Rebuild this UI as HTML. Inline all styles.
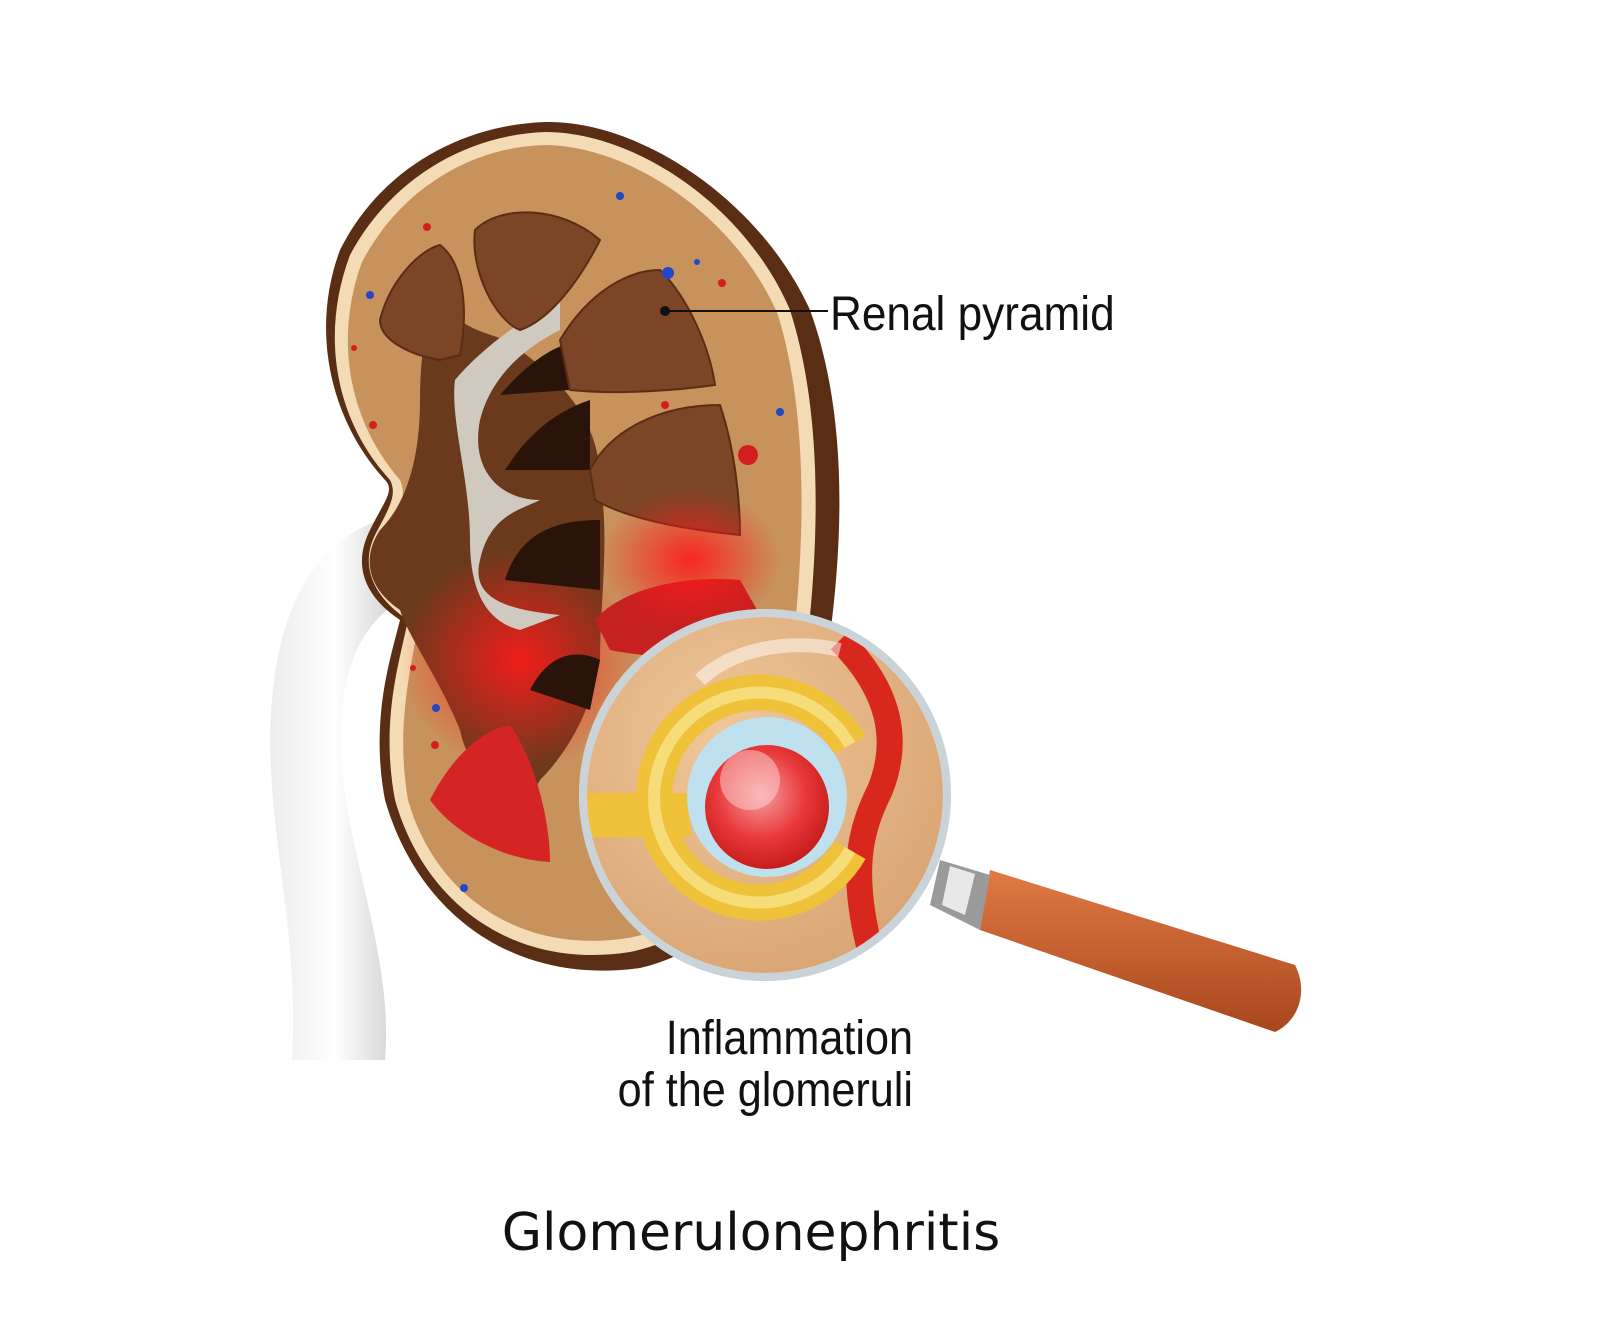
<!DOCTYPE html>
<html><head><meta charset="utf-8"><style>
html,body{margin:0;padding:0;background:#fff;width:1600px;height:1341px;overflow:hidden}
svg{display:block}
</style></head><body>
<svg width="1600" height="1341" viewBox="0 0 1600 1341" xmlns="http://www.w3.org/2000/svg">
<defs>
<linearGradient id="ur" x1="0" x2="1" y1="0" y2="0">
<stop offset="0" stop-color="#ececec"/><stop offset="0.5" stop-color="#ffffff"/><stop offset="1" stop-color="#cfcfcf"/></linearGradient>
<radialGradient id="glow" cx="0.5" cy="0.5" r="0.5">
<stop offset="0" stop-color="#ff1a1a" stop-opacity="0.9"/><stop offset="1" stop-color="#ff1a1a" stop-opacity="0"/></radialGradient>
<radialGradient id="lens" cx="0.4" cy="0.35" r="0.7">
<stop offset="0" stop-color="#f0c89a"/><stop offset="1" stop-color="#d9a473"/></radialGradient>
<radialGradient id="glom" cx="0.45" cy="0.4" r="0.6">
<stop offset="0" stop-color="#f5a0a0"/><stop offset="0.6" stop-color="#e8383a"/><stop offset="1" stop-color="#c81d1d"/></radialGradient>
<linearGradient id="hdl" x1="0" x2="0" y1="0" y2="1">
<stop offset="0" stop-color="#e07a45"/><stop offset="1" stop-color="#a8461c"/></linearGradient>
<clipPath id="lc"><circle cx="765" cy="795" r="178"/></clipPath>
</defs>

<path d="M380,520 C320,540 280,600 272,700 C262,820 300,920 292,1060 L385,1060 C395,940 330,820 342,710 C348,650 370,620 400,600 Z" fill="url(#ur)"/>

<path d="M545,122 C640,120 760,200 810,310 C850,420 845,560 820,700 C800,820 760,940 640,968 C520,985 420,920 385,800 C370,720 390,660 400,620 C370,600 350,570 370,530 C385,500 395,490 385,480 C330,420 310,330 340,250 C380,170 460,125 545,122 Z" fill="#5a2e14"/>
<path d="M545,132 C635,132 745,205 790,310 C825,420 820,560 800,700 C780,820 740,930 630,952 C515,970 425,905 395,800 C380,720 400,660 408,620 C378,600 358,570 375,535 C388,510 398,495 390,480 C335,420 320,335 350,255 C390,180 465,135 545,132 Z" fill="#f3dcb5"/>
<path d="M545,145 C630,146 735,215 778,315 C810,420 806,560 786,700 C766,815 728,920 628,938 C520,955 435,895 408,800 C395,725 412,665 418,625 C392,605 372,575 386,542 C398,515 408,498 400,480 C348,420 334,338 362,262 C400,190 470,147 545,145 Z" fill="#c8925c"/>

<path d="M440,300 C470,340 500,330 520,350 C560,380 600,420 600,480 C610,540 600,600 600,660 C590,720 560,760 540,780 C520,820 470,780 460,730 C440,680 410,640 400,610 C370,590 360,560 380,530 C410,500 420,450 420,400 C420,360 425,320 440,300 Z" fill="#6b3a1c"/>
<ellipse cx="520" cy="660" rx="120" ry="110" fill="url(#glow)"/>
<path d="M455,380 C480,350 520,320 560,300 L560,330 C520,350 490,380 480,420 C470,470 500,500 540,500 C520,510 490,515 480,560 C470,600 510,610 560,615 L520,630 C480,620 470,580 470,540 C470,480 450,420 455,380 Z" fill="#d0c9c0"/>
<path d="M500,395 C530,360 560,340 590,340 L570,390 Z" fill="#2a140a"/>
<path d="M505,470 C530,430 560,410 590,400 L590,470 Z" fill="#2a140a"/>
<path d="M505,580 C520,530 560,520 600,520 L600,590 Z" fill="#2a140a"/>
<path d="M530,690 C550,650 580,650 600,660 L590,710 Z" fill="#2a140a"/>

<g fill="#7b4526" stroke="#5a2e14" stroke-width="2">
<path d="M380,320 C390,280 420,250 440,245 C460,260 470,300 460,355 L440,360 C410,355 380,340 380,320 Z"/>
<path d="M475,230 C500,205 560,205 600,240 C580,280 550,320 520,330 C495,320 470,270 475,230 Z"/>
<path d="M560,340 C590,290 630,270 660,270 C690,300 710,350 715,385 C680,390 620,395 570,390 Z"/>
<path d="M590,470 C610,430 660,405 720,405 C735,450 740,500 740,535 C690,530 630,520 595,500 Z"/>
</g>
<path d="M595,620 C620,590 680,575 740,580 L780,650 C720,660 660,660 610,650 Z" fill="#c62020"/>
<path d="M430,800 C450,760 480,730 510,725 C535,760 550,820 550,862 C510,860 460,840 430,800 Z" fill="#d42424"/>
<ellipse cx="690" cy="560" rx="90" ry="70" fill="url(#glow)"/>

<g fill="#d21e1e"><circle cx="748" cy="455" r="10"/><circle cx="427" cy="227" r="4"/><circle cx="665" cy="405" r="4"/><circle cx="373" cy="425" r="4"/><circle cx="722" cy="283" r="4"/><circle cx="413" cy="668" r="3"/><circle cx="435" cy="745" r="4"/><circle cx="354" cy="348" r="3"/></g>
<g fill="#2546c8"><circle cx="620" cy="196" r="4"/><circle cx="668" cy="273" r="6"/><circle cx="370" cy="295" r="4"/><circle cx="780" cy="412" r="4"/><circle cx="436" cy="708" r="4"/><circle cx="464" cy="888" r="4"/><circle cx="697" cy="262" r="3"/></g>

<path d="M990,870 L1295,965 C1308,990 1300,1020 1275,1032 L980,930 Z" fill="url(#hdl)"/>
<path d="M940,860 L990,875 L980,930 L930,905 Z" fill="#9a9a9a"/>
<path d="M950,866 L975,874 L965,915 L942,905 Z" fill="#e8e8e8"/>

<circle cx="765" cy="795" r="186" fill="#e6ecef"/>
<circle cx="765" cy="795" r="178" fill="url(#lens)"/>
<g clip-path="url(#lc)">
<path d="M840,640 C890,690 900,740 880,790 C860,830 850,870 870,950" stroke="#d8281e" stroke-width="26" fill="none"/>
<path d="M580,815 L690,815" stroke="#f0c23a" stroke-width="44"/>
<path d="M850,745 A105,105 0 1 0 850,850" stroke="#f0c23a" stroke-width="36" fill="none"/>
<path d="M850,745 A105,105 0 1 0 850,850" stroke="#f7dc7a" stroke-width="12" fill="none"/>
<circle cx="767" cy="797" r="80" fill="#bfe0ee"/>
<circle cx="767" cy="807" r="62" fill="url(#glom)"/>
<circle cx="750" cy="780" r="30" fill="#ffd4d4" opacity="0.5"/>
<path d="M700,680 A120,80 0 0 1 840,650" stroke="#fff" stroke-width="14" fill="none" opacity="0.5"/>
</g>
<circle cx="765" cy="795" r="182" fill="none" stroke="#c9d3d8" stroke-width="8"/>

<line x1="665" y1="311" x2="828" y2="311" stroke="#111" stroke-width="2"/>
<circle cx="665" cy="311" r="5" fill="#111"/>

<g font-family="'Liberation Sans', sans-serif" fill="#111">
<text x="830" y="330" font-size="48" transform="translate(830 0) scale(0.92 1) translate(-830 0)">Renal pyramid</text>
<text x="913" y="1054" font-size="48" text-anchor="end" transform="translate(913 0) scale(0.9 1) translate(-913 0)">Inflammation</text>
<text x="913" y="1106" font-size="48" text-anchor="end" transform="translate(913 0) scale(0.9 1) translate(-913 0)">of the glomeruli</text>
</g>
<text x="751" y="1250" font-family="'DejaVu Sans', 'Liberation Sans', sans-serif" font-size="52" text-anchor="middle" fill="#111">Glomerulonephritis</text>
</svg>
</body></html>
